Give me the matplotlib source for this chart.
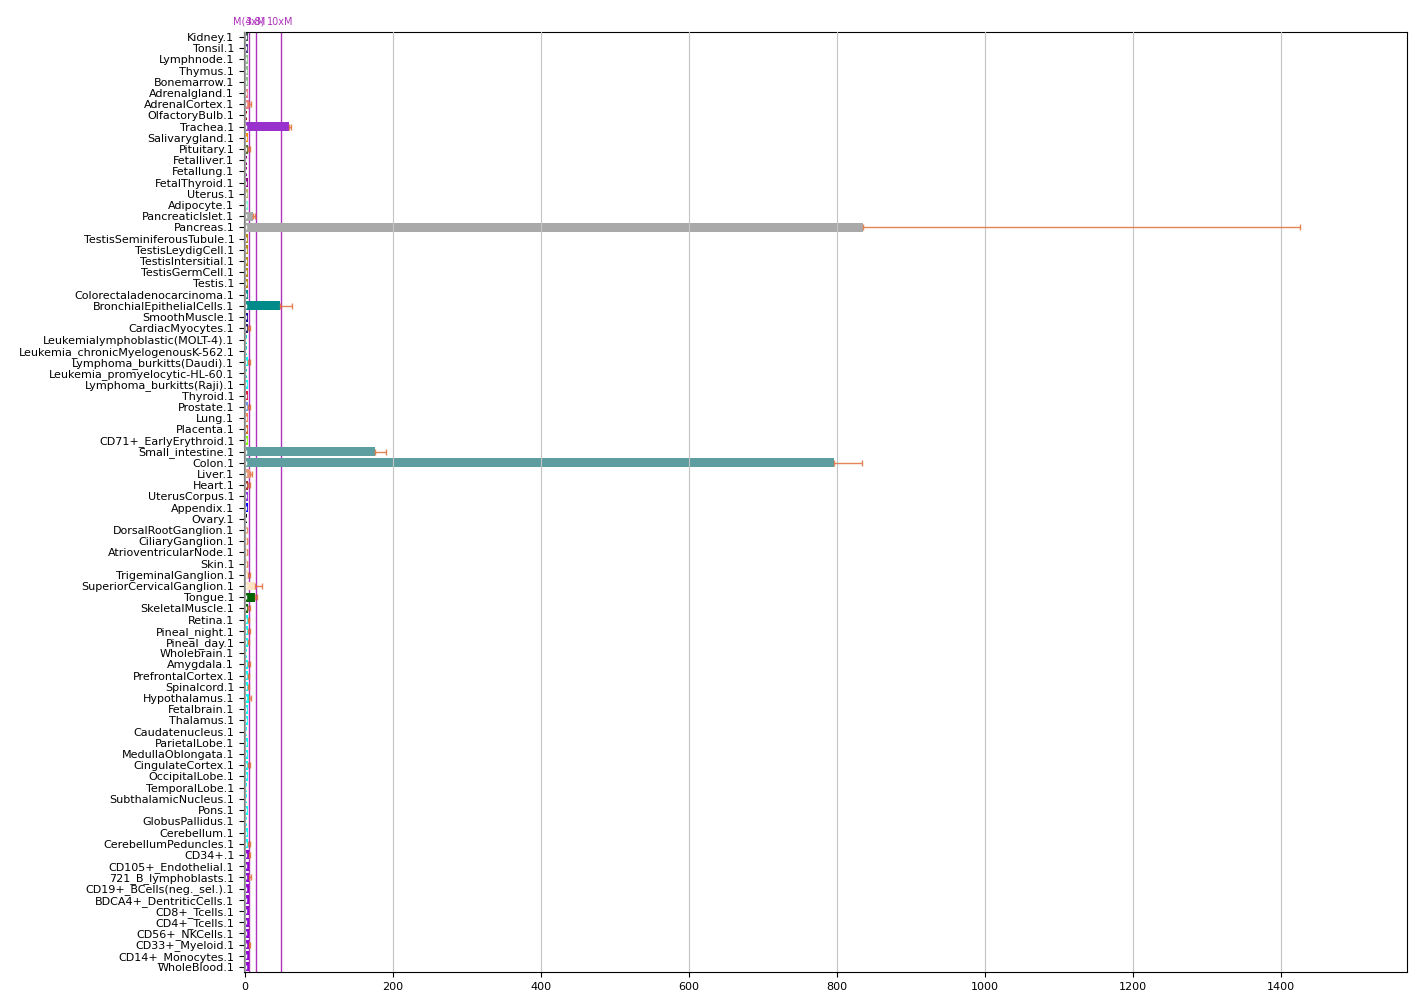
import numpy as np
import matplotlib
matplotlib.use("Agg")
import matplotlib.pyplot as plt

tissues = [
    "Kidney.1", "Tonsil.1", "Lymphnode.1", "Thymus.1", "Bonemarrow.1", "Adrenalgland.1",
    "AdrenalCortex.1", "OlfactoryBulb.1", "Trachea.1", "Salivarygland.1", "Pituitary.1",
    "Fetalliver.1", "Fetallung.1", "FetalThyroid.1", "Uterus.1", "Adipocyte.1",
    "PancreaticIslet.1", "Pancreas.1", "TestisSeminiferousTubule.1", "TestisLeydigCell.1",
    "TestisIntersitial.1", "TestisGermCell.1", "Testis.1", "Colorectaladenocarcinoma.1",
    "BronchialEpithelialCells.1", "SmoothMuscle.1", "CardiacMyocytes.1",
    "Leukemialymphoblastic(MOLT-4).1", "Leukemia_chronicMyelogenousK-562.1",
    "Lymphoma_burkitts(Daudi).1", "Leukemia_promyelocytic-HL-60.1", "Lymphoma_burkitts(Raji).1",
    "Thyroid.1", "Prostate.1", "Lung.1", "Placenta.1", "CD71+_EarlyErythroid.1",
    "Small_intestine.1", "Colon.1", "Liver.1", "Heart.1", "UterusCorpus.1", "Appendix.1",
    "Ovary.1", "DorsalRootGanglion.1", "CiliaryGanglion.1", "AtrioventricularNode.1",
    "Skin.1", "TrigeminalGanglion.1", "SuperiorCervicalGanglion.1", "Tongue.1",
    "SkeletalMuscle.1", "Retina.1", "Pineal_night.1", "Pineal_day.1", "Wholebrain.1",
    "Amygdala.1", "PrefrontalCortex.1", "Spinalcord.1", "Hypothalamus.1", "Fetalbrain.1",
    "Thalamus.1", "Caudatenucleus.1", "ParietalLobe.1", "MedullaOblongata.1",
    "CingulateCortex.1", "OccipitalLobe.1", "TemporalLobe.1", "SubthalamicNucleus.1",
    "Pons.1", "GlobusPallidus.1", "Cerebellum.1", "CerebellumPeduncles.1", "CD34+.1",
    "CD105+_Endothelial.1", "721_B_lymphoblasts.1", "CD19+_BCells(neg._sel.).1",
    "BDCA4+_DentriticCells.1", "CD8+_Tcells.1", "CD4+_Tcells.1", "CD56+_NKCells.1",
    "CD33+_Myeloid.1", "CD14+_Monocytes.1", "WholeBlood.1",
]

means = [
    3.6, 4.5, 3.6, 3.6, 4.5, 4.5, 5.4, 2.7, 59.5, 3.6, 4.5,
    2.7, 2.7, 4.5, 3.6, 3.6, 11.0, 835.0, 3.6, 3.6, 3.6, 3.6, 3.6, 3.6,
    47.5, 3.6, 4.5, 2.7, 2.7, 4.5, 2.7, 4.5,
    4.5, 4.5, 4.5, 4.5, 3.6, 175.0, 796.0, 6.8, 4.5, 4.5, 4.5,
    2.7, 1.8, 2.0, 2.0, 2.0, 4.0, 14.0, 13.5, 4.5,
    4.5, 4.5, 4.5, 2.7, 4.5, 4.5, 4.5, 5.0, 4.5,
    4.5, 3.0, 4.5, 3.5, 4.5, 3.5, 3.0, 3.0,
    4.5, 3.0, 3.5, 4.5, 5.4, 5.0, 5.0, 5.0, 5.0, 5.0, 5.0, 5.0,
    5.0, 5.0, 5.0,
]

errors = [
    0.0, 0.0, 0.0, 0.0, 0.0, 0.0, 2.5, 0.0, 3.0, 0.0, 2.5,
    0.0, 0.0, 0.0, 0.0, 0.0, 2.5, 590.0, 0.0, 0.0, 0.0, 0.0, 0.0, 0.0,
    16.5, 0.0, 1.5, 0.0, 0.0, 1.5, 0.0, 0.0,
    0.0, 1.5, 0.0, 0.0, 0.0, 15.0, 38.0, 2.5, 1.5, 0.0, 0.0,
    0.0, 1.0, 1.0, 1.0, 1.0, 2.0, 8.5, 2.5, 1.5,
    1.0, 1.5, 1.0, 0.0, 1.5, 1.0, 1.0, 3.0, 0.0,
    0.0, 0.0, 0.0, 0.0, 2.0, 0.0, 0.0, 0.0,
    0.0, 0.0, 0.0, 1.5, 1.5, 0.0, 2.5, 0.0, 0.0, 0.0, 0.0, 0.0,
    2.0, 0.0, 0.0,
]

colors = [
    "#2F4F4F", "#483D8B", "#8FBC8F", "#8FBC8F", "#8FBC8F", "#F08080", "#F08080",
    "#8B0000", "#9932CC", "#FF8C00", "#556B2F", "#8B008B", "#8B008B", "#8B008B",
    "#BDB76B", "#7FFFD4", "#A9A9A9", "#A9A9A9", "#B8860B", "#B8860B", "#B8860B",
    "#B8860B", "#B8860B", "#008B8B", "#008B8B", "#00008B", "#191970",
    "#00CED1", "#00CED1", "#00FFFF", "#00CED1", "#00FFFF",
    "#DC143C", "#6495ED", "#FF7F50", "#D2691E", "#7FFF00", "#5F9EA0", "#5F9EA0",
    "#E9967A", "#A52A2A", "#8A2BE2", "#0000FF", "#000000",
    "#FFE4C4", "#FFE4C4", "#FFE4C4", "#FFE4C4", "#FFE4C4", "#FFE4C4",
    "#006400", "#006400",
] + ["#00FFFF"] * 21 + ["#9400D3"] * 11

median = 4.8

fig = plt.figure(figsize=(14.26, 10.08), dpi=100)
ax = fig.add_axes([0.1711, 0.0357, 0.8156, 0.9326])

y = np.arange(len(tissues))
means = np.array(means)
errors = np.array(errors)
ax.barh(y, means, height=0.8, color=colors, zorder=2)

# one-sided error bars (right side only), only where there is spread
has = errors > 0
ax.errorbar(means[has], y[has], xerr=[np.zeros(has.sum()), errors[has]], fmt="none",
            ecolor="#e0703a", elinewidth=1.0, capsize=2.5, capthick=1.0, alpha=0.85, zorder=3)
ax.plot(np.full(len(y), 1.6), y, "|", color="white", ms=3, mew=1.0, zorder=4)

ax.axvline(-0.6, color="#9a9a9a", lw=1.2, zorder=5)
mcol = "#ae32bc"
for mult, lab in [(1, "M(%.1f)" % median), (3, "3xM"), (10, "10xM")]:
    ax.axvline(mult * median, color=mcol, lw=1, zorder=1)
    ax.text(mult * median, -0.9, lab, color=mcol, fontsize=7, ha="center", va="bottom")

ax.set_yticks(y)
ax.set_yticklabels(tissues, fontsize=8)
ax.set_xlim(-1.5, 1570)
ax.set_ylim(len(y) - 0.55, -0.45)
ax.xaxis.grid(True, color="#c4c4c4", lw=0.8, zorder=2.5)
ax.set_axisbelow(False)
ax.tick_params(axis="x", labelsize=8)

fig.savefig("out.png", dpi=100)
